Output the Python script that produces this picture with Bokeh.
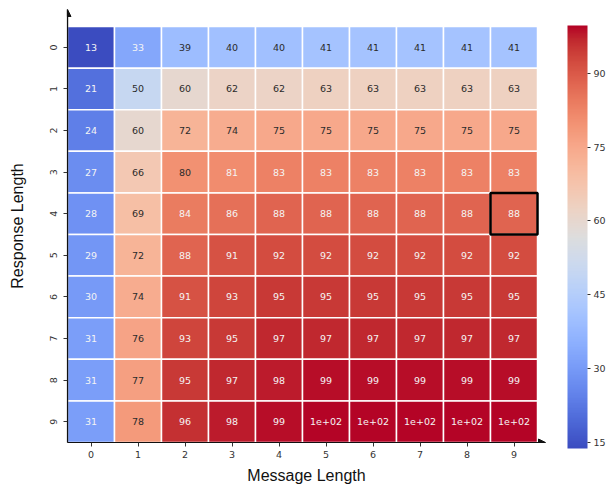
import numpy as np
from bokeh.plotting import figure
from bokeh.models import (ColumnDataSource, LinearColorMapper, ColorBar, FixedTicker,
                          Range1d, Arrow, NormalHead)
from bokeh.embed import file_html
from bokeh.resources import INLINE

# ---------------- data ----------------
message_lengths = list(range(10))
response_lengths = list(range(10))
success = [
    [13, 33, 39, 40, 40, 41, 41, 41, 41, 41],
    [21, 50, 60, 62, 62, 63, 63, 63, 63, 63],
    [24, 60, 72, 74, 75, 75, 75, 75, 75, 75],
    [27, 66, 80, 81, 83, 83, 83, 83, 83, 83],
    [28, 69, 84, 86, 88, 88, 88, 88, 88, 88],
    [29, 72, 88, 91, 92, 92, 92, 92, 92, 92],
    [30, 74, 91, 93, 95, 95, 95, 95, 95, 95],
    [31, 76, 93, 95, 97, 97, 97, 97, 97, 97],
    [31, 77, 95, 97, 98, 99, 99, 99, 99, 99],
    [31, 78, 96, 98, 99, 99.7, 99.7, 99.7, 99.7, 99.7],
]
highlight_message = [9]
highlight_response = [4]
cbar_ticks = [15, 30, 45, 60, 75, 90]
v_low, v_high = 13.8, 99.7

# ---------------- coolwarm palette (style) ----------------
_cw = [(59,76,192),(68,90,204),(77,104,215),(87,117,225),(98,130,234),(108,142,241),
       (119,154,247),(130,165,251),(141,176,254),(152,185,255),(163,194,255),(174,201,253),
       (184,208,249),(194,213,244),(204,217,238),(213,219,230),(221,221,221),(229,216,209),
       (236,211,197),(241,204,184),(245,196,172),(247,187,160),(247,177,148),(247,166,137),
       (244,154,123),(241,141,111),(236,127,99),(229,112,88),(222,96,77),(213,80,66),
       (203,62,56),(192,40,47),(180,4,38)]
_cw = np.array(_cw, dtype=float)
_xs = np.linspace(0, 1, len(_cw))
_t = np.linspace(0, 1, 256)
_rgb = np.stack([np.interp(_t, _xs, _cw[:, i]) for i in range(3)], axis=1)
palette = ["#%02x%02x%02x" % tuple(int(round(c)) for c in row) for row in _rgb]


def text_color(v):
    t = min(max((v - v_low) / (v_high - v_low), 0), 1)
    r, g, b = _rgb[int(round(t * 255))] / 255.0
    lin = [c / 12.92 if c <= 0.04045 else ((c + 0.055) / 1.055) ** 2.4 for c in (r, g, b)]
    lum = 0.2126 * lin[0] + 0.7152 * lin[1] + 0.0722 * lin[2]
    return "#f4f4f4" if lum < 0.40 else "#2b2b2b"


xs, ys, vals, labels, tcols = [], [], [], [], []
for ri, row in zip(response_lengths, success):
    for mi, v in zip(message_lengths, row):
        xs.append(mi)
        ys.append(ri)
        vals.append(v)
        labels.append(format(v, ".2g"))
        tcols.append(text_color(v))
src = ColumnDataSource(dict(x=xs, y=ys, v=vals, label=labels, tcol=tcols))

mapper = LinearColorMapper(palette=palette, low=v_low, high=v_high)

p = figure(width=608, height=488, output_backend="svg", toolbar_location=None,
           x_range=Range1d(-0.5, 9.67), y_range=Range1d(9.5, -0.91),
           min_border_left=67, min_border_right=62, min_border_top=9, min_border_bottom=46)
p.outline_line_color = None
p.xgrid.visible = False
p.ygrid.visible = False
p.background_fill_color = "white"
p.border_fill_color = "white"

p.rect(x="x", y="y", width=1, height=1, source=src,
       fill_color={"field": "v", "transform": mapper},
       line_color="white", line_width=1.5)
p.text(x="x", y="y", text="label", source=src, text_color="tcol",
       text_align="center", text_baseline="middle", text_font_size="9.5px",
       text_font={"value": "DejaVu Sans"})

p.rect(x=highlight_message, y=highlight_response, width=1, height=1,
       fill_alpha=0, line_color="black", line_width=2.5)

for ax in (p.xaxis, p.yaxis):
    ax.ticker = FixedTicker(ticks=message_lengths)
    ax.axis_line_color = "#111111"
    ax.axis_line_width = 1.2
    ax.major_tick_out = 4
    ax.major_tick_in = 0
    ax.minor_tick_line_color = None
    ax.major_tick_line_color = "#333333"
    ax.major_label_text_font = "DejaVu Sans"
    ax.major_label_text_font_size = "9.5px"
    ax.major_label_text_color = "#333333"
    ax.axis_label_text_font = "Liberation Sans"
    ax.axis_label_text_font_size = "16px"
    ax.axis_label_text_font_style = "normal"
    ax.axis_label_text_color = "#111111"

p.xaxis.axis_label = "Message Length"
p.yaxis.axis_label = "Response Length"
p.xaxis.major_label_standoff = 4
p.xaxis.axis_label_standoff = 6
p.yaxis.major_label_orientation = "vertical"
p.yaxis.major_label_standoff = 6
p.yaxis.axis_label_standoff = 22

# arrow heads on the spines
p.add_layout(Arrow(end=NormalHead(size=7, fill_color="#111111", line_color="#111111"),
                   x_start=-0.5, y_start=9.5, x_end=-0.5, y_end=-0.91,
                   line_color="#111111", line_width=1.2))
p.add_layout(Arrow(end=NormalHead(size=7, fill_color="#111111", line_color="#111111"),
                   x_start=-0.5, y_start=9.5, x_end=9.67, y_end=9.5,
                   line_color="#111111", line_width=1.2))

cb = ColorBar(color_mapper=mapper, ticker=FixedTicker(ticks=cbar_ticks),
              width=20, height=423, padding=0, margin=0, location=(22, -6),
              major_tick_in=0, major_tick_out=3, major_tick_line_color="#333333",
              major_label_text_font="DejaVu Sans", major_label_text_font_size="9.5px",
              major_label_text_color="#333333", label_standoff=3,
              bar_line_color=None, border_line_color=None, background_fill_color=None)
p.add_layout(cb, "right")

open("out.html", "w").write(file_html(p, INLINE))
